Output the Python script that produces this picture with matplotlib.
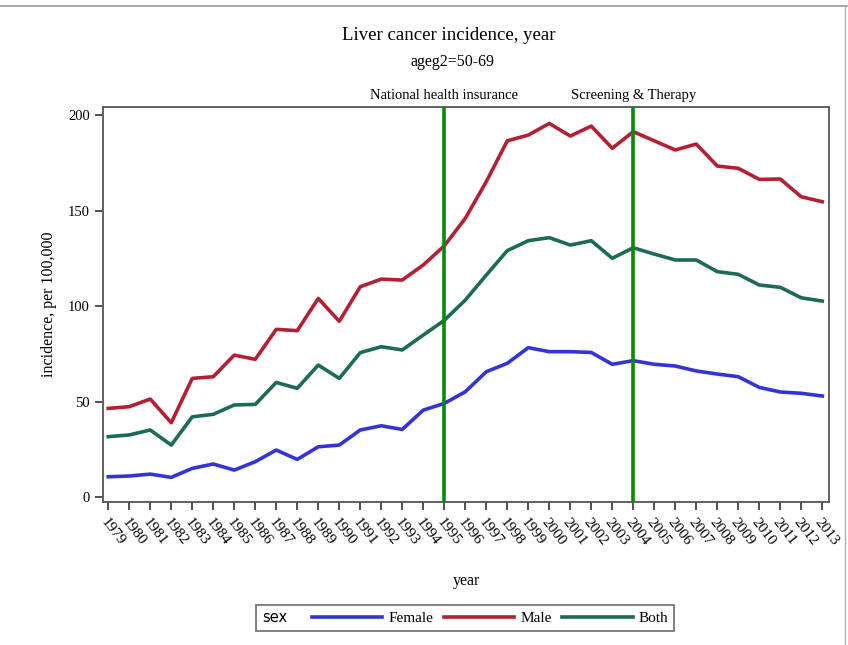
import matplotlib
matplotlib.use("Agg")
import matplotlib.pyplot as plt
from matplotlib.lines import Line2D
from matplotlib.offsetbox import HPacker

years = list(range(1979, 2014))

female = [10.6, 11.0, 12.0, 10.3, 15.0, 17.3, 14.1, 18.5, 24.6, 19.7,
          26.3, 27.2, 35.1, 37.3, 35.4, 45.5, 49.0, 55.1, 65.6, 70.0,
          78.2, 76.1, 76.1, 75.7, 69.5, 71.4, 69.5, 68.6, 66.0, 64.4,
          63.0, 57.4, 55.0, 54.3, 52.9]
male = [46.4, 47.3, 51.3, 38.9, 62.1, 63.0, 74.3, 72.1, 87.8, 87.1,
        104.0, 92.0, 110.1, 114.1, 113.6, 121.5, 131.5, 145.9, 165.1, 186.5,
        189.5, 195.6, 189.0, 194.2, 182.6, 191.3, 186.5, 181.7, 184.8, 173.3,
        172.1, 166.3, 166.5, 157.2, 154.6]
both = [31.6, 32.5, 35.1, 27.2, 42.0, 43.3, 48.2, 48.5, 60.0, 56.9,
        69.1, 62.1, 75.6, 78.7, 77.0, 84.8, 92.5, 103.1, 116.2, 129.0,
        134.2, 135.8, 131.9, 134.2, 125.0, 130.5, 127.2, 124.1, 124.1, 118.0,
        116.6, 111.0, 109.8, 104.3, 102.6]

series_names = ["Female", "Male", "Both"]
series_colors = ["#3434d6", "#b32036", "#1c6b58"]

events = [1995, 2004]
event_labels = ["National health insurance", "Screening & Therapy"]

yticks = [0, 50, 100, 150, 200]

plt.rcParams['font.family'] = ['Liberation Serif', 'DejaVu Serif']

fig = plt.figure(figsize=(8.48, 6.45), dpi=100)
ax = fig.add_axes([103 / 848, 1 - 502 / 645, (829 - 103) / 848, (502 - 107) / 645])

for vals, color in zip([female, male, both], series_colors):
    ax.plot(years, vals, color=color, lw=2.6, solid_joinstyle='round')

for ev, lab in zip(events, event_labels):
    ax.axvline(ev, color="#0a8a0a", lw=2.6, zorder=3)
    ax.text(ev, 204.2 + 2.5, lab, ha='center', va='bottom', fontsize=10.5,
            transform=ax.transData)

ax.set_xlim(1978.75, 2013.32)
ax.set_ylim(-2.6, 204.2)
ax.set_xticks(years)
ax.set_xticklabels([str(y) for y in years], rotation=-52, ha='left',
                   va='top', rotation_mode='anchor', fontsize=11)
ax.set_yticks(yticks)
ax.set_yticklabels([str(v) for v in yticks], fontsize=10.5)
ax.tick_params(axis='both', length=6, width=1.2, color='#333333')
ax.tick_params(axis='x', pad=4)
for sp in ax.spines.values():
    sp.set_color('#555555')
    sp.set_linewidth(1.3)

ax.set_ylabel("incidence, per 100,000", fontsize=11.5, labelpad=8)
ax.set_xlabel("year", fontsize=11.5, labelpad=18)

fig.text(449 / 848, 1 - 35 / 645, "Liver cancer incidence, year",
         ha='center', va='center', fontsize=13.5)
fig.text(452 / 848, 1 - 62 / 645, "ageg2=50-69",
         ha='center', va='center', fontsize=11.5)

handles = [Line2D([0], [0], color=c, lw=2.6) for c in series_colors]
leg = fig.legend(handles, series_names, loc='center', ncol=3,
                 bbox_to_anchor=(465 / 848, 1 - 618 / 645), frameon=True,
                 fontsize=11, handlelength=4.6, columnspacing=0.7,
                 handletextpad=0.4, fancybox=False, borderpad=0.35,
                 title="sex", alignment='left')
leg.get_frame().set_edgecolor('#555555')
leg.get_frame().set_linewidth(1.3)
# put the group title on the same row as the entries
leg._legend_box._children = [HPacker(pad=0, sep=18, align='center',
                                     children=[leg._legend_title_box,
                                               leg._legend_handle_box])]
leg.get_title().set_fontfamily(['DejaVu Sans'])
leg.get_title().set_fontsize(10.5)

# light page frame
fig.add_artist(Line2D([0, 1], [1 - 6 / 645] * 2, color='#9a9a9a', lw=1.2,
                      transform=fig.transFigure))
fig.add_artist(Line2D([845 / 848] * 2, [1 - 6 / 645, 0], color='#b0b0b0',
                      lw=1.0, transform=fig.transFigure))

fig.savefig("out.png", dpi=100, facecolor='white')
